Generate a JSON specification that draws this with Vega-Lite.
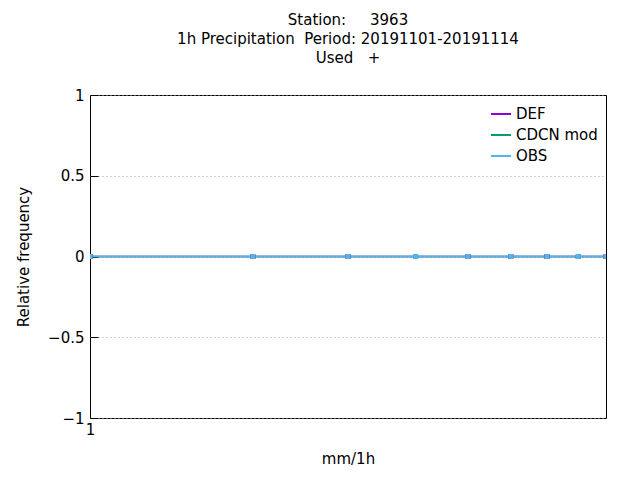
{
  "$schema": "https://vega.github.io/schema/vega-lite/v6.json",
  "autosize": "none",
  "width": 516,
  "height": 323,
  "padding": {"left": 90, "top": 95, "right": 34, "bottom": 62},
  "background": "white",
  "config": {
    "font": "DejaVu Sans",
    "view": {"stroke": "black", "strokeWidth": 1},
    "axis": {"labelFont": "DejaVu Sans", "titleFont": "DejaVu Sans", "labelFontSize": 15, "titleFontSize": 15, "titleFontWeight": "normal", "labelColor": "black", "titleColor": "black", "domainColor": "black", "tickColor": "black"}
  },
  "title": {
    "text": ["Station:\u00a0\u00a0\u00a0\u00a0\u00a03963", "1h Precipitation\u00a0\u00a0Period: 20191101-20191114", "Used\u00a0\u00a0\u00a0+"],
    "fontSize": 15, "fontWeight": "normal", "font": "DejaVu Sans", "lineHeight": 19, "offset": 22, "anchor": "middle"
  },
  "data": {"values": [
    {"x": 1, "y": 0, "series": "DEF"}, {"x": 2, "y": 0, "series": "DEF"}, {"x": 3, "y": 0, "series": "DEF"},
    {"x": 4, "y": 0, "series": "DEF"}, {"x": 5, "y": 0, "series": "DEF"}, {"x": 6, "y": 0, "series": "DEF"},
    {"x": 7, "y": 0, "series": "DEF"}, {"x": 8, "y": 0, "series": "DEF"}, {"x": 9, "y": 0, "series": "DEF"},
    {"x": 1, "y": 0, "series": "CDCN mod"}, {"x": 2, "y": 0, "series": "CDCN mod"}, {"x": 3, "y": 0, "series": "CDCN mod"},
    {"x": 4, "y": 0, "series": "CDCN mod"}, {"x": 5, "y": 0, "series": "CDCN mod"}, {"x": 6, "y": 0, "series": "CDCN mod"},
    {"x": 7, "y": 0, "series": "CDCN mod"}, {"x": 8, "y": 0, "series": "CDCN mod"}, {"x": 9, "y": 0, "series": "CDCN mod"},
    {"x": 1, "y": 0, "series": "OBS"}, {"x": 2, "y": 0, "series": "OBS"}, {"x": 3, "y": 0, "series": "OBS"},
    {"x": 4, "y": 0, "series": "OBS"}, {"x": 5, "y": 0, "series": "OBS"}, {"x": 6, "y": 0, "series": "OBS"},
    {"x": 7, "y": 0, "series": "OBS"}, {"x": 8, "y": 0, "series": "OBS"}, {"x": 9, "y": 0, "series": "OBS"}
  ]},
  "mark": {"type": "line", "point": {"shape": "square", "size": 25, "filled": true}, "strokeWidth": 1.5, "clip": true},
  "encoding": {
    "x": {
      "field": "x", "type": "quantitative",
      "scale": {"type": "log", "domain": [1, 9], "nice": false},
      "axis": {"values": [1], "grid": false, "tickSize": -8, "labelPadding": 12, "labelAlign": "center", "labelFlush": false, "title": "mm/1h", "titlePadding": 14, "domain": false}
    },
    "y": {
      "field": "y", "type": "quantitative",
      "scale": {"domain": [-1, 1], "nice": false},
      "axis": {"values": [-1, -0.5, 0, 0.5, 1], "format": "~g", "tickSize": -8, "labelPadding": 14, "labelFlush": false, "grid": true, "gridColor": "#a0a0a0", "gridDash": [1, 3], "gridOpacity": 1, "title": "Relative frequency", "titlePadding": 16, "domain": false}
    },
    "color": {
      "field": "series", "type": "nominal",
      "sort": ["DEF", "CDCN mod", "OBS"],
      "scale": {"domain": ["DEF", "CDCN mod", "OBS"], "range": ["#9400d3", "#009e73", "#56b4e9"]},
      "legend": {"title": null, "orient": "top-right", "labelFontSize": 15, "labelFont": "DejaVu Sans", "symbolType": "stroke", "symbolSize": 400, "symbolStrokeWidth": 2, "rowPadding": 2, "offset": 8}
    },
    "order": {"field": "series"}
  }
}
